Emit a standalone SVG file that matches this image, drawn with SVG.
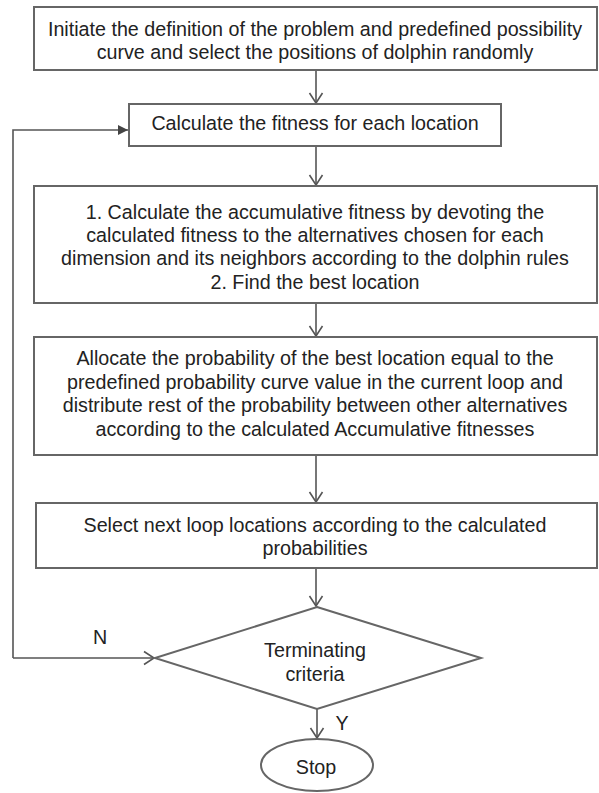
<svg xmlns="http://www.w3.org/2000/svg" width="599" height="793" viewBox="0 0 599 793">
<style>
.box{fill:#fff;stroke:#666;stroke-width:2}
.t{font-family:"Liberation Sans",Arial,sans-serif;font-size:19.7px;fill:#222;text-anchor:middle}
.c{fill:none;stroke:#555;stroke-width:1.6}
</style>
<defs>
<marker id="open" markerUnits="userSpaceOnUse" markerWidth="16" markerHeight="18" viewBox="-13 -9 16 18" refX="0" refY="0" orient="auto" overflow="visible">
<path d="M-10,-6.5 L0,0 L-10,6.5" fill="none" stroke="#555" stroke-width="1.6"/>
</marker>
<marker id="solid" markerUnits="userSpaceOnUse" markerWidth="14" markerHeight="14" viewBox="-12 -7 14 14" refX="0" refY="0" orient="auto" overflow="visible">
<path d="M-10,-5 L0,0 L-10,5 Z" fill="#444" stroke="none"/>
</marker>
</defs>
<rect width="599" height="793" fill="#fff"/>
<g id="connectors">
<path class="c" d="M316,70 V103" marker-end="url(#open)"/>
<path class="c" d="M316,146 V185" marker-end="url(#open)"/>
<path class="c" d="M316,303 V336" marker-end="url(#open)"/>
<path class="c" d="M316,455 V502" marker-end="url(#open)"/>
<path class="c" d="M316,568 V606" marker-end="url(#open)"/>
<path class="c" d="M317,709 V738" marker-end="url(#open)"/>
<path class="c" d="M13,658 H154" marker-end="url(#open)"/>
<path class="c" d="M13,658 V130 H128" marker-end="url(#solid)"/>
<text class="t" x="100" y="644">N</text>
<text class="t" x="342" y="730">Y</text>
</g>
<g id="n1">
<rect class="box" x="34" y="7" width="563" height="63"/>
<text class="t" x="315" y="36">Initiate the definition of the problem and predefined possibility</text>
<text class="t" x="315" y="59">curve and select the positions of dolphin randomly</text>
</g>
<g id="n2">
<rect class="box" x="129" y="104" width="372" height="42"/>
<text class="t" x="315" y="130">Calculate the fitness for each location</text>
</g>
<g id="n3">
<rect class="box" x="34" y="186" width="563" height="117"/>
<text class="t" x="315" y="219">1. Calculate the accumulative fitness by devoting the</text>
<text class="t" x="315" y="242">calculated fitness to the alternatives chosen for each</text>
<text class="t" x="315" y="265">dimension and its neighbors according to the dolphin rules</text>
<text class="t" x="315" y="289">2. Find the best location</text>
</g>
<g id="n4">
<rect class="box" x="34" y="337" width="563" height="118"/>
<text class="t" x="315" y="365">Allocate the probability of the best location equal to the</text>
<text class="t" x="315" y="389">predefined probability curve value in the current loop and</text>
<text class="t" x="315" y="412">distribute rest of the probability between other alternatives</text>
<text class="t" x="315" y="436">according to the calculated Accumulative fitnesses</text>
</g>
<g id="n5">
<rect class="box" x="36" y="503" width="561" height="65"/>
<text class="t" x="315" y="532">Select next loop locations according to the calculated</text>
<text class="t" x="315" y="555">probabilities</text>
</g>
<g id="n6">
<polygon class="box" points="317,607 481,658 317,709 155,658"/>
<text class="t" x="315" y="657">Terminating</text>
<text class="t" x="315" y="681">criteria</text>
</g>
<g id="n7">
<ellipse class="box" cx="317" cy="765" rx="56" ry="26"/>
<text class="t" x="316" y="774">Stop</text>
</g>
</svg>
